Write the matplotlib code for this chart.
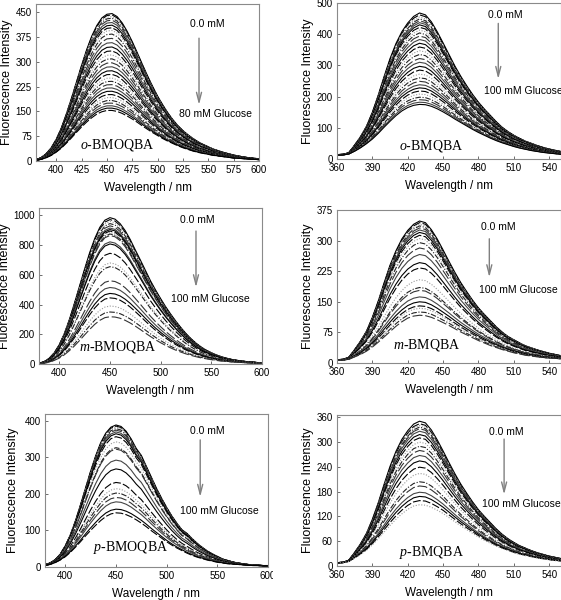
import numpy as np
import matplotlib
matplotlib.use('Agg')
import matplotlib.pyplot as plt
from matplotlib.patches import Rectangle

plt.rcParams['font.family'] = ['Liberation Sans', 'DejaVu Sans']
plt.rcParams['mathtext.fontset'] = 'custom'
plt.rcParams['mathtext.it'] = 'Liberation Serif:italic'
plt.rcParams['mathtext.rm'] = 'Liberation Serif'

### Wavelength grids (nm) ###
WL_LEFT = np.arange(380, 601, 5)    # BMOQBA panels
WL_RIGHT = np.arange(360, 551, 5)   # BMQBA panels

### Read-off spectra: strongest (0 mM) and weakest (max glucose) curve ###
TOP_1 = [4, 10, 22, 40, 66, 100, 143, 190, 240, 290, 337, 378, 410, 433, 444, 446, 437, 418, 392, 361,
         327, 292, 258, 226, 196, 170, 146, 125, 107, 92, 79, 68, 58, 50, 43, 36, 31, 26, 22, 18,
         15, 12, 10, 8, 7]
BOT_1 = [2, 5, 10, 17, 27, 39, 54, 70, 87, 103, 118, 131, 142, 149, 153, 153, 150, 144, 136, 127,
         117, 106, 96, 86, 77, 68, 60, 53, 46, 40, 35, 30, 26, 23, 20, 17, 15, 13, 11, 9,
         8, 7, 6, 5, 4]
TOP_2 = [14, 15, 20, 45, 72, 105, 150, 205, 265, 322, 370, 408, 436, 457, 468, 462, 440, 408, 372, 335,
         298, 265, 235, 207, 182, 160, 140, 120, 102, 88, 76, 66, 57, 50, 43, 37, 32, 28, 24]
BOT_2 = [12, 13, 16, 25, 36, 49, 64, 82, 102, 121, 139, 154, 165, 172, 175, 174, 169, 161, 151, 140,
         128, 117, 106, 95, 85, 76, 67, 59, 52, 46, 40, 35, 31, 27, 24, 21, 19, 17, 15]
TOP_3 = [5, 15, 38, 75, 130, 205, 300, 410, 525, 640, 750, 845, 920, 968, 985, 975, 945, 898, 838, 768,
         700, 630, 560, 498, 440, 385, 335, 288, 245, 205, 170, 140, 114, 93, 76, 61, 49, 39, 31, 25,
         20, 16, 13, 10, 8]
BOT_3 = [2, 5, 12, 24, 40, 62, 90, 122, 158, 196, 233, 267, 294, 312, 318, 316, 308, 294, 276, 255,
         232, 208, 185, 163, 143, 125, 108, 93, 80, 68, 58, 49, 41, 35, 29, 24, 20, 17, 14, 12,
         10, 8, 7, 6, 5]
TOP_4 = [8, 9, 14, 33, 54, 78, 112, 152, 197, 240, 275, 304, 325, 340, 348, 344, 327, 304, 277, 249,
         222, 197, 175, 154, 135, 119, 104, 89, 76, 65, 57, 49, 42, 37, 32, 28, 24, 21, 18]
BOT_4 = [7, 7, 9, 15, 21, 29, 39, 51, 64, 77, 90, 101, 110, 115, 117, 116, 112, 106, 99, 92,
         84, 76, 69, 62, 55, 49, 43, 38, 33, 29, 25, 22, 19, 17, 15, 13, 12, 11, 10]
TOP_5 = [6, 11, 20, 35, 58, 88, 126, 170, 216, 262, 304, 340, 366, 382, 388, 384, 371, 350, 324, 305,
         275, 245, 215, 188, 163, 140, 120, 102, 92, 78, 65, 54, 44, 36, 29, 22, 18, 14, 11, 9,
         7, 6, 5, 4, 4]
BOT_5 = [4, 7, 12, 19, 28, 40, 54, 69, 85, 100, 114, 127, 138, 145, 148, 147, 143, 137, 129, 120,
         110, 99, 89, 79, 69, 60, 52, 45, 38, 32, 27, 23, 19, 16, 13, 11, 9, 8, 7, 6,
         5, 4, 4, 3, 3]
TOP_6 = [8, 9, 14, 33, 54, 79, 113, 153, 198, 241, 277, 306, 327, 343, 350, 346, 329, 305, 278, 250,
         223, 198, 176, 155, 136, 120, 105, 90, 77, 66, 57, 49, 43, 37, 32, 28, 24, 21, 18]
BOT_6 = [8, 8, 11, 19, 28, 38, 51, 66, 82, 98, 113, 126, 137, 145, 148, 147, 142, 135, 127, 117,
         107, 97, 88, 79, 70, 62, 55, 48, 42, 37, 32, 28, 25, 22, 19, 17, 15, 13, 12]

### Peak intensities of every spectrum in the titration ###
PEAKS_1 = [446, 442, 437, 432, 426, 419, 411, 403, 395, 384, 371, 358, 345, 333, 321, 309, 297, 285,
           273, 262, 251, 241, 231, 221, 211, 201, 192, 183, 175, 167, 160, 153]
PEAKS_2 = [468, 462, 455, 449, 443, 437, 430, 422, 413, 404, 394, 383, 371, 359, 347, 335, 322, 310,
           297, 285, 272, 260, 249, 238, 228, 218, 208, 198, 190, 182, 175]
PEAKS_3 = [985, 972, 960, 945, 930, 915, 905, 895, 885, 875, 865, 822, 808, 745, 680, 655, 560, 515,
           475, 445, 390, 350, 318]
PEAKS_4 = [348, 344, 340, 336, 331, 326, 320, 313, 305, 295, 282, 266, 246, 233, 204, 185, 178, 162,
           150, 140, 134, 125, 117]
PEAKS_5 = [388, 385, 382, 378, 374, 369, 364, 356, 342, 326, 322, 292, 268, 231, 214, 202, 190, 178,
           158, 148]
PEAKS_6 = [350, 344, 340, 336, 332, 326, 318, 310, 300, 290, 280, 268, 255, 240, 225, 205, 195, 180,
           170, 160, 150]

NAMES = [r'$\mathit{o}$-BMOQBA', r'$\mathit{o}$-BMQBA', r'$\mathit{m}$-BMOQBA',
         r'$\mathit{m}$-BMQBA', r'$\mathit{p}$-BMOQBA', r'$\mathit{p}$-BMQBA']
END_LABELS = ['80 mM Glucose', '100 mM Glucose', '100 mM Glucose',
              '100 mM Glucose', '100 mM Glucose', '100 mM Glucose']

### Layout (pixels in a 561x600 figure): x0, x1, y_top, y_bottom, y-label centre x ###
BOXES = [(36, 259, 4, 161, 7), (337, 561, 3, 159, 308),
         (39, 262, 208, 364, 5), (337, 561, 210, 363, 308),
         (45, 268, 414, 567, 13), (337, 561, 415, 566, 308)]
# text positions in axes fraction: 0 mM label, arrow x, arrow top, arrow bottom, end label, name
ANNOT = [((0.767, 0.873), 0.731, 0.80, 0.34, (0.803, 0.30), (0.363, 0.05)),
         ((0.75, 0.923), 0.72, 0.887, 0.495, (0.83, 0.438), (0.42, 0.035)),
         ((0.709, 0.923), 0.704, 0.87, 0.474, (0.767, 0.415), (0.354, 0.055)),
         ((0.72, 0.891), 0.68, 0.83, 0.542, (0.81, 0.477), (0.40, 0.065)),
         ((0.726, 0.886), 0.696, 0.849, 0.44, (0.782, 0.365), (0.383, 0.075)),
         ((0.758, 0.889), 0.746, 0.859, 0.455, (0.824, 0.41), (0.42, 0.03))]

STYLES = [('-', 'black'), ((0, (7, 2)), 'black'), ((0, (1, 1.5)), '#9a9a9a'),
          ((0, (5, 1.5, 1, 1.5)), '#222222'), ((0, (9, 2.5)), '#333333'), ('-', '#444444')]

W, H = 561, 600
fig = plt.figure(figsize=(W / 100, H / 100), dpi=100)

panels = [(WL_LEFT, TOP_1, BOT_1, PEAKS_1, (380, 600), (0, 475), np.arange(400, 601, 25), np.arange(0, 451, 75)),
          (WL_RIGHT, TOP_2, BOT_2, PEAKS_2, (360, 550), (0, 500), np.arange(360, 541, 30), np.arange(0, 501, 100)),
          (WL_LEFT, TOP_3, BOT_3, PEAKS_3, (380, 600), (0, 1050), np.arange(400, 601, 50), np.arange(0, 1001, 200)),
          (WL_RIGHT, TOP_4, BOT_4, PEAKS_4, (360, 550), (0, 375), np.arange(360, 541, 30), np.arange(0, 376, 75)),
          (WL_LEFT, TOP_5, BOT_5, PEAKS_5, (380, 600), (0, 418), np.arange(400, 601, 50), np.arange(0, 401, 100)),
          (WL_RIGHT, TOP_6, BOT_6, PEAKS_6, (360, 550), (0, 365), np.arange(360, 541, 30), np.arange(0, 361, 60))]

axes = []
for i, (wl, top, bot, peaks, xl, yl, xt, yt) in enumerate(panels):
    x0, x1, yt0, yb, lab_x = BOXES[i]
    ax = fig.add_axes([x0 / W, 1 - yb / H, (x1 - x0) / W, (yb - yt0) / H])
    top = np.array(top, float)
    bot = np.array(bot, float)
    pt, pb = max(peaks), min(peaks)
    for j, p in enumerate(peaks):
        frac = (p - pb) / (pt - pb)
        ls, col = STYLES[j % len(STYLES)]
        ax.plot(wl, bot + (top - bot) * frac, linestyle=ls, color=col, lw=0.8)

    ax.set_xlim(xl)
    ax.set_ylim(yl)
    ax.set_xticks(xt)
    ax.set_yticks(yt)
    for s in ax.spines.values():
        s.set_color('#8a8a8a')
        s.set_linewidth(0.8)
    ax.tick_params(direction='in', length=2.5, width=0.6, color='#555555', labelsize=7, pad=3)
    ax.set_xlabel('Wavelength / nm', fontsize=8.5, labelpad=5)
    ax.set_ylabel('Fluorescence Intensity', fontsize=9, va='center')
    # y-label centre placed at a fixed pixel column
    ax.yaxis.set_label_coords((lab_x - x0) / (x1 - x0), 0.5)

    zero, ax_x, ay0, ay1, endpos, namepos = ANNOT[i]
    ax.text(*zero, '0.0 mM', transform=ax.transAxes, ha='center', va='center', fontsize=7.5)
    ax.annotate('', xy=(ax_x, ay1), xytext=(ax_x, ay0), xycoords='axes fraction',
                arrowprops=dict(arrowstyle='->, head_length=0.7, head_width=0.18', color='#808080', lw=1))
    ax.text(*endpos, END_LABELS[i], transform=ax.transAxes, ha='center', va='center', fontsize=7.5)
    ax.text(*namepos, NAMES[i], transform=ax.transAxes, ha='center', va='bottom', fontsize=10,
            family='Liberation Serif')
    axes.append(ax)

# the right-hand bottom panel hides the end of the "600" label
fig.add_artist(Rectangle((273 / W, 0), 1, 200 / H, transform=fig.transFigure,
                         facecolor='white', edgecolor='none', zorder=0.5))
axes[5].set_zorder(1)

plt.savefig('out.png', dpi=100)
